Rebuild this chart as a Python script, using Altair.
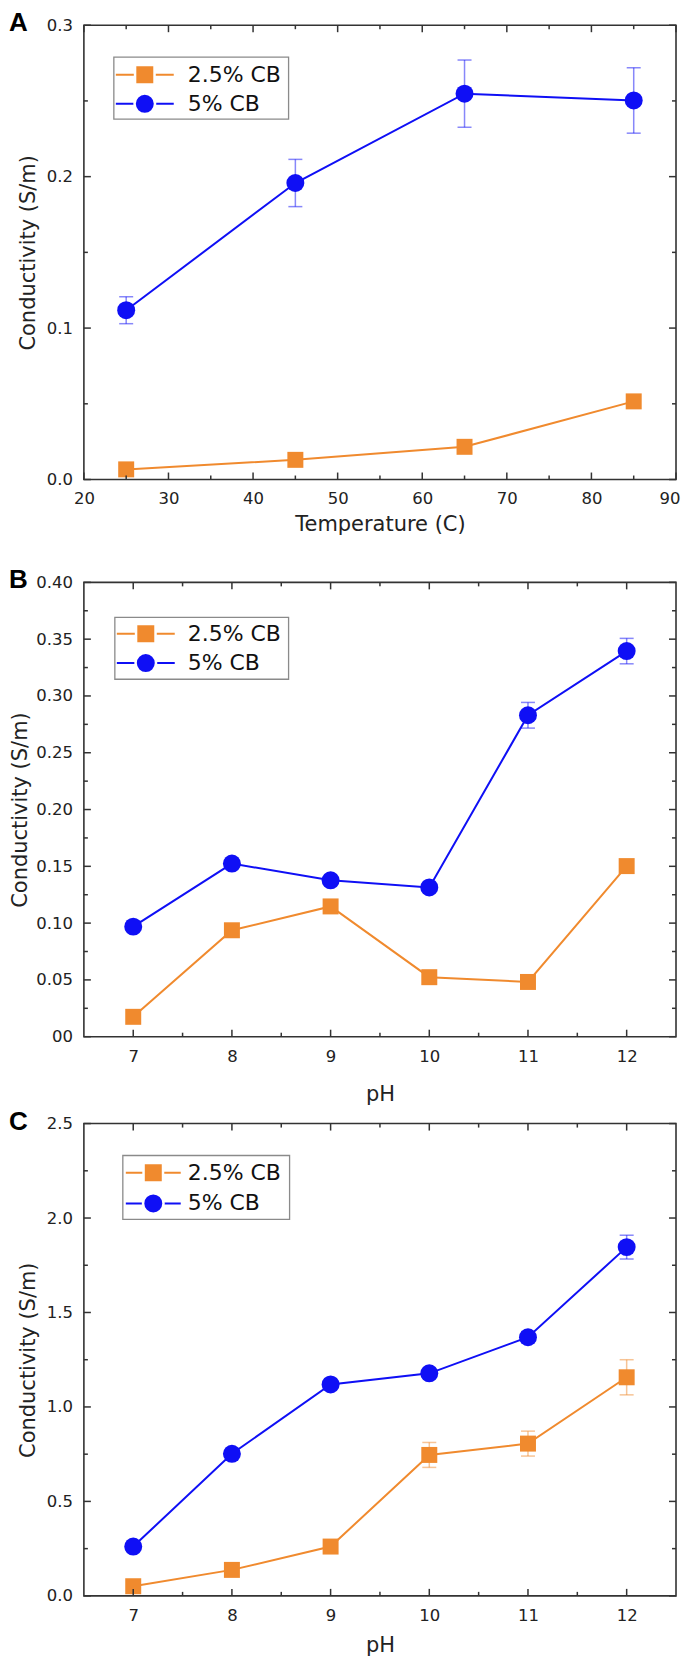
import altair as alt
import pandas as pd

SERIES = ["2.5% CB", "5% CB"]
COLORS = ["#F08A2E", "#0F0FF5"]
Y_TITLE = "Conductivity (S/m)"

# ---- Panel A: conductivity vs temperature
temperature = [25, 45, 65, 85]
a_cb25 = [0.0067, 0.0130, 0.0216, 0.0516]
a_cb25_err = [0.001, 0.001, 0.001, 0.002]
a_cb5 = [0.1118, 0.1958, 0.2548, 0.2503]
a_cb5_err = [0.0089, 0.0156, 0.0222, 0.0216]
a_x_major = [20, 30, 40, 50, 60, 70, 80, 90]
a_x_minor = [25, 35, 45, 55, 65, 75, 85]
a_y_major = [0.0, 0.1, 0.2, 0.3]
a_y_minor = [0.05, 0.15, 0.25]

# ---- Panel B: conductivity vs pH
ph = [7, 8, 9, 10, 11, 12]
b_cb25 = [0.0175, 0.0937, 0.1147, 0.0524, 0.0482, 0.1502]
b_cb25_err = [0.002, 0.002, 0.002, 0.002, 0.002, 0.002]
b_cb5 = [0.0969, 0.1524, 0.1377, 0.1314, 0.2830, 0.3395]
b_cb5_err = [0.003, 0.003, 0.003, 0.003, 0.0113, 0.0112]
b_y_major = [0.0, 0.05, 0.10, 0.15, 0.20, 0.25, 0.30, 0.35, 0.40]
b_y_minor = [0.025, 0.075, 0.125, 0.175, 0.225, 0.275, 0.325, 0.375]

# ---- Panel C: conductivity vs pH
c_cb25 = [0.051, 0.1375, 0.261, 0.746, 0.806, 1.157]
c_cb25_err = [0.02, 0.02, 0.02, 0.066, 0.066, 0.093]
c_cb5 = [0.261, 0.752, 1.119, 1.178, 1.369, 1.846]
c_cb5_err = [0.02, 0.02, 0.02, 0.02, 0.03, 0.063]
c_y_major = [0.0, 0.5, 1.0, 1.5, 2.0, 2.5]
c_y_minor = [0.25, 0.75, 1.25, 1.75, 2.25]

ph_major = [7, 8, 9, 10, 11, 12]
ph_minor = [7.5, 8.5, 9.5, 10.5, 11.5]

TICK_COLOR = "#333333"


def panel_df(xs, y25, e25, y5, e5):
    rows = []
    for name, col, ys, es in ((SERIES[0], COLORS[0], y25, e25), (SERIES[1], COLORS[1], y5, e5)):
        for x, y, e in zip(xs, ys, es):
            rows.append({"x": x, "y": y, "lo": y - e, "hi": y + e, "series": name, "col": col})
    return pd.DataFrame(rows)


def legend_layers(lx, ly, bw, bh, line_x0, line_len, mark_cx, text_x, row_y):
    """Boxed legend in the upper left of the plot area (Origin style: line-marker-line)."""
    layers = [alt.Chart(pd.DataFrame({"k": [0]})).mark_rect(
        fill="white", stroke="#8a8a8a", strokeWidth=1.3).encode(
        x=alt.value(lx), x2=alt.value(lx + bw), y=alt.value(ly), y2=alt.value(ly + bh))]
    for i, (name, col) in enumerate(zip(SERIES, COLORS)):
        ry = ly + row_y[i]
        d = alt.Chart(pd.DataFrame({"label": [name]}))
        layers.append(d.mark_rule(color=col, strokeWidth=2).encode(
            x=alt.value(lx + line_x0), x2=alt.value(lx + line_x0 + line_len), y=alt.value(ry)))
        if i == 0:
            mk = d.mark_square(size=380, fill=col, stroke="white", strokeWidth=2.5, opacity=1)
        else:
            mk = d.mark_circle(size=420, fill=col, stroke="white", strokeWidth=2.5, opacity=1)
        layers.append(mk.encode(x=alt.value(lx + mark_cx), y=alt.value(ry)))
        layers.append(d.mark_text(align="left", baseline="middle", fontSize=22,
                                  font="DejaVu Sans", color="#111111").encode(
            x=alt.value(lx + text_x), y=alt.value(ry), text="label:N"))
    return layers


def make_panel(letter, df, xdom, ydom, x_major, x_minor, y_major, y_minor,
               x_title, x_fmt, y_fmt, y_label_expr, W, H, title_pad, y_title_pad, legend,
               x_extra=None):
    xs = alt.Scale(domain=xdom, nice=False, zero=False)
    ys = alt.Scale(domain=ydom, nice=False, zero=False)

    x_kw = dict(values=x_major, format=x_fmt, title=x_title,
                titlePadding=title_pad, labelFlush=False)
    if x_extra:
        x_kw.update(x_extra)
    x_axis = alt.Axis(**x_kw)
    y_kw = dict(values=y_major, title=Y_TITLE, titlePadding=y_title_pad, labelFlush=False)
    if y_label_expr:
        y_kw["labelExpr"] = y_label_expr
    else:
        y_kw["format"] = y_fmt
    y_axis = alt.Axis(**y_kw)

    xe = alt.X("x:Q", scale=xs, axis=x_axis)
    ye = alt.Y("y:Q", scale=ys, axis=y_axis)
    ce = alt.Color("col:N", scale=None)

    base = alt.Chart(df)
    line = base.mark_line(strokeWidth=2).encode(x=xe, y=ye, color=ce, detail="series:N")
    err = base.mark_rule(strokeWidth=1.5, opacity=0.5).encode(
        x=xe, y=alt.Y("lo:Q", scale=ys, axis=y_axis), y2="hi:Q", color=ce)
    cap_lo = base.mark_tick(orient="horizontal", size=14, thickness=1.5, opacity=0.5).encode(
        x=xe, y=alt.Y("lo:Q", scale=ys, axis=y_axis), color=ce)
    cap_hi = base.mark_tick(orient="horizontal", size=14, thickness=1.5, opacity=0.5).encode(
        x=xe, y=alt.Y("hi:Q", scale=ys, axis=y_axis), color=ce)
    squares = base.transform_filter(alt.datum.series == SERIES[0]).mark_square(
        size=256, opacity=1).encode(x=xe, y=ye, color=ce)
    circles = base.transform_filter(alt.datum.series == SERIES[1]).mark_circle(
        size=324, opacity=1).encode(x=xe, y=ye, color=ce)

    ticks = []
    for vals, L in ((y_major, 7), (y_minor, 4)):
        d = alt.Chart(pd.DataFrame({"v": vals}))
        yv = alt.Y("v:Q", scale=ys, axis=y_axis)
        ticks.append(d.mark_rule(color=TICK_COLOR, strokeWidth=1.5).encode(
            y=yv, x=alt.value(0), x2=alt.value(L)))
        ticks.append(d.mark_rule(color=TICK_COLOR, strokeWidth=1.5).encode(
            y=yv, x=alt.value(W), x2=alt.value(W - L)))
    for vals, L in ((x_major, 7), (x_minor, 4)):
        d = alt.Chart(pd.DataFrame({"v": vals}))
        xv = alt.X("v:Q", scale=xs, axis=x_axis)
        ticks.append(d.mark_rule(color=TICK_COLOR, strokeWidth=1.5).encode(
            x=xv, y=alt.value(0), y2=alt.value(L)))
        ticks.append(d.mark_rule(color=TICK_COLOR, strokeWidth=1.5).encode(
            x=xv, y=alt.value(H), y2=alt.value(H - L)))

    label = alt.Chart(pd.DataFrame({"t": [letter]})).mark_text(
        font="Liberation Sans", fontSize=26, fontWeight="bold", align="left",
        baseline="middle", color="black").encode(
        text="t:N", x=alt.value(-75), y=alt.value(-2))

    return alt.layer(line, err, cap_lo, cap_hi, squares, circles, *ticks,
                     *legend_layers(**legend), label).properties(width=W, height=H)


W = 593
panel_a = make_panel("A", panel_df(temperature, a_cb25, a_cb25_err, a_cb5, a_cb5_err),
                     [20, 90], [0, 0.3], a_x_major, a_x_minor, a_y_major, a_y_minor,
                     "Temperature (C)", "d", ".1f", None, W, 455, 6, 7.5,
                     dict(lx=30, ly=32, bw=175, bh=62, line_x0=2, line_len=58,
                          mark_cx=31, text_x=74, row_y=[17.7, 46.7]),
                     x_extra=dict(
                         labelAlign={"condition": {"test": "datum.value == 90", "value": "right"},
                                     "value": "center"},
                         labelOffset={"condition": {"test": "datum.value == 90", "value": 4},
                                      "value": 0}))
panel_b = make_panel("B", panel_df(ph, b_cb25, b_cb25_err, b_cb5, b_cb5_err),
                     [6.5, 12.5], [0, 0.4], ph_major, ph_minor, b_y_major, b_y_minor,
                     "pH", "d", ".2f",
                     "datum.value == 0 ? '00' : format(datum.value, '.2f')",
                     W, 455, 19, 5.5,
                     dict(lx=31, ly=35, bw=174, bh=62, line_x0=2, line_len=58,
                          mark_cx=31, text_x=73, row_y=[16.5, 45.8]))
panel_c = make_panel("C", panel_df(ph, c_cb25, c_cb25_err, c_cb5, c_cb5_err),
                     [6.5, 12.5], [0, 2.5], ph_major, ph_minor, c_y_major, c_y_minor,
                     "pH", "d", ".1f", None, W, 473, 11, 7.5,
                     dict(lx=39, ly=32, bw=167, bh=64, line_x0=3, line_len=55,
                          mark_cx=30.5, text_x=65, row_y=[17.3, 48]))

lower = alt.vconcat(panel_b, panel_c, spacing=87, bounds="flush").resolve_scale(
    x="independent", y="independent")
chart = alt.vconcat(panel_a, lower, spacing=103, bounds="flush").resolve_scale(
    x="independent", y="independent")

chart = chart.properties(
    padding={"left": 0, "top": 0, "right": 0, "bottom": 0}
).configure_view(
    stroke="#333333", strokeWidth=1.6
).configure_axis(
    domain=False, ticks=False, grid=False,
    labelFont="DejaVu Sans", labelFontSize=16.5, labelColor="#222222", labelPadding=11.5,
    titleFont="DejaVu Sans", titleFontSize=21, titleFontWeight="normal", titleColor="#222222",
)

chart.save("out.html", embed_options={"renderer": "svg", "actions": False})
